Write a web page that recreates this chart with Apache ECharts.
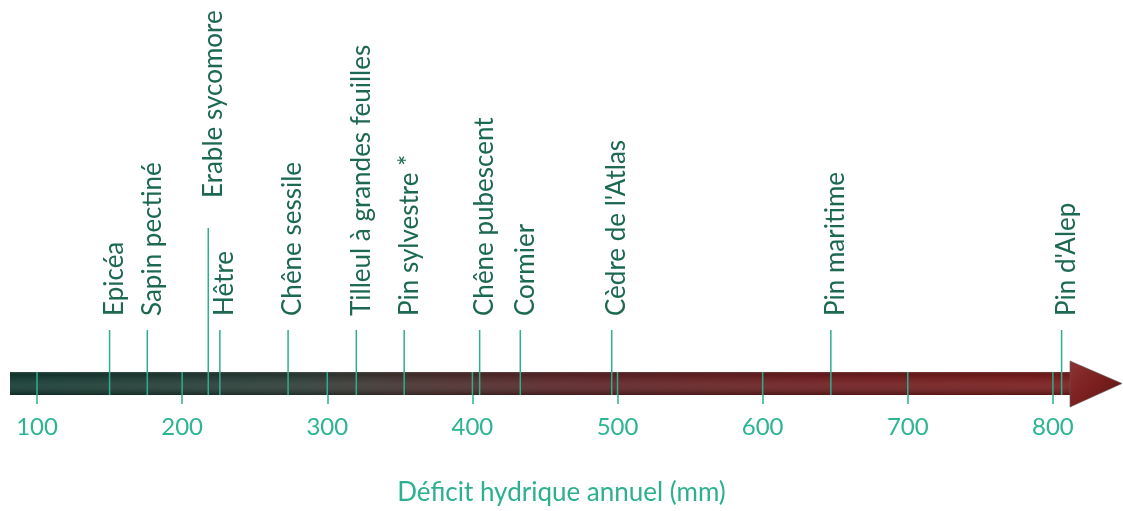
<!DOCTYPE html>
<html>
<head>
<meta charset="utf-8">
<script src="https://cdn.jsdelivr.net/npm/echarts@6/dist/echarts.min.js"></script>
<style>
  html, body { margin: 0; padding: 0; background: #fff; }
  #chart { width: 1123px; height: 511px; }
</style>
</head>
<body>
<div id="chart"></div>
<script>
// axe : déficit hydrique annuel (mm)
var tickValues = [100, 200, 300, 400, 500, 600, 700, 800];
var speciesNames = ['Epicéa', 'Sapin pectiné', 'Erable sycomore', 'Hêtre', 'Chêne sessile',
  'Tilleul à grandes feuilles', 'Pin sylvestre *', 'Chêne pubescent', 'Cormier',
  'Cèdre de l\'Atlas', 'Pin maritime', 'Pin d\'Alep'];
var speciesValues = [150, 176, 218, 226, 273, 320, 353, 405, 433, 496, 647, 806];
// l'érable a son étiquette plus haut
var speciesHigh = [0, 0, 1, 0, 0, 0, 0, 0, 0, 0, 0, 0];

var teal = '#2fae8f';
var labelColor = '#1d6852';
var font = 'Lato, "Open Sans", sans-serif';

// repères verticaux en pixels (axe y inversé = pixels depuis le haut)
var barTop = 372, barBottom = 395, tickBottom = 407;

var chart = echarts.init(document.getElementById('chart'));

chart.setOption({
  animation: false,
  grid: { left: 0, right: 0, top: 0, bottom: 116 },
  xAxis: {
    type: 'value',
    min: 74.5,
    max: 848.3,
    axisLine: { show: false, onZero: false },
    splitLine: { show: false },
    axisTick: {
      show: true,
      customValues: tickValues,
      length: 12,
      lineStyle: { color: teal, width: 1.5 }
    },
    axisLabel: {
      customValues: tickValues,
      margin: 23,
      fontSize: 24,
      fontFamily: font,
      color: '#2cb493'
    },
    name: 'Déficit hydrique annuel (mm)',
    nameLocation: 'middle',
    nameGap: 88,
    nameTextStyle: { fontSize: 26, fontFamily: font, color: '#2cb08f' }
  },
  yAxis: { type: 'value', min: 0, max: 395, inverse: true, show: false },
  series: [
    {
      // la flèche
      type: 'custom',
      silent: true,
      z: 1,
      data: [[0]],
      renderItem: function (params, api) {
        var x0 = 10, xBase = 1070, xTip = 1122;
        var yMid = (barTop + barBottom) / 2;
        return {
          type: 'group',
          children: [
            {
              type: 'rect',
              shape: { x: x0, y: barTop, width: xBase - x0 + 2, height: barBottom - barTop },
              style: {
                fill: new echarts.graphic.LinearGradient(0, 0, 1, 0, [
                  { offset: 0, color: '#123a31' },
                  { offset: 0.28, color: '#2e3c37' },
                  { offset: 0.38, color: '#46302d' },
                  { offset: 0.52, color: '#5a2326' },
                  { offset: 0.75, color: '#6d1c1e' },
                  { offset: 1, color: '#7a1a1a' }
                ])
              }
            },
            {
              type: 'rect',
              shape: { x: x0, y: barTop, width: xBase - x0 + 2, height: barBottom - barTop },
              style: {
                fill: new echarts.graphic.LinearGradient(0, 0, 0, 1, [
                  { offset: 0, color: 'rgba(120,120,120,0.35)' },
                  { offset: 0.12, color: 'rgba(0,0,0,0.1)' },
                  { offset: 0.5, color: 'rgba(255,255,255,0.08)' },
                  { offset: 1, color: 'rgba(0,0,0,0.25)' }
                ])
              }
            },
            {
              type: 'polygon',
              shape: { points: [[xBase, 361], [xTip, yMid], [xBase, tickBottom]] },
              style: {
                fill: new echarts.graphic.LinearGradient(0, 0, 1, 1, [
                  { offset: 0, color: '#8c3434' },
                  { offset: 0.5, color: '#7a1e1e' },
                  { offset: 1, color: '#5e1616' }
                ]),
                stroke: 'rgba(90,90,90,0.6)',
                lineWidth: 1
              }
            }
          ]
        };
      }
    },
    {
      // graduations dans la flèche
      type: 'custom',
      silent: true,
      z: 2,
      data: tickValues.map(function (v) { return [v]; }),
      renderItem: function (params, api) {
        var p = api.coord([api.value(0), barTop]);
        return {
          type: 'line',
          shape: { x1: p[0], y1: barTop, x2: p[0], y2: barBottom },
          style: { stroke: teal, lineWidth: 1.5 }
        };
      }
    },
    {
      // essences
      type: 'custom',
      silent: true,
      z: 3,
      data: speciesValues.map(function (v, i) { return [v, speciesHigh[i], i]; }),
      renderItem: function (params, api) {
        var i = api.value(2);
        var high = api.value(1) === 1;
        var lineTop = high ? 228 : 330;
        var textBottom = high ? 198 : 316;
        var x = api.coord([api.value(0), barBottom])[0];
        return {
          type: 'group',
          children: [
            {
              type: 'line',
              shape: { x1: x, y1: lineTop, x2: x, y2: barBottom },
              style: { stroke: teal, lineWidth: 1.5 }
            },
            {
              type: 'text',
              x: x + 5,
              y: textBottom,
              rotation: Math.PI / 2,
              style: {
                text: speciesNames[i],
                fill: labelColor,
                font: '26px ' + font,
                align: 'left',
                verticalAlign: 'middle'
              }
            }
          ]
        };
      }
    }
  ]
});
</script>
</body>
</html>
